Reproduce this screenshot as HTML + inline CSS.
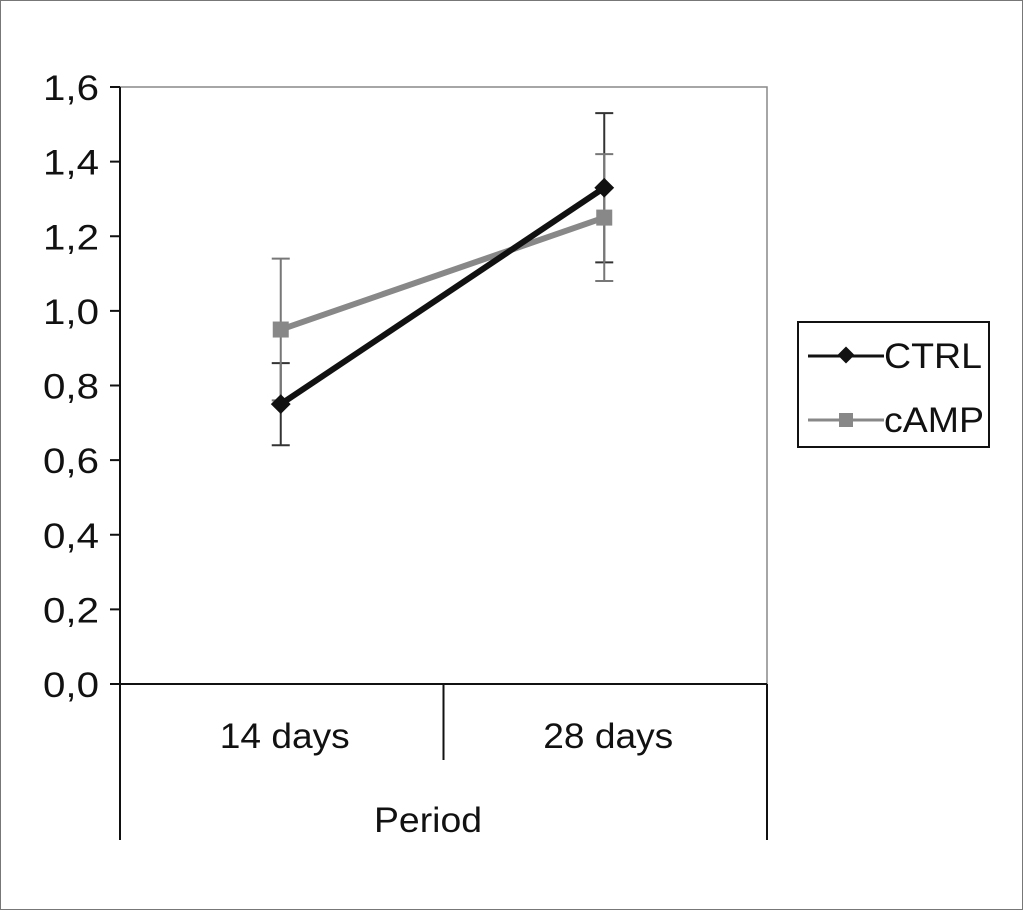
<!DOCTYPE html>
<html><head><meta charset="utf-8"><style>
html,body{margin:0;padding:0;background:#fff}
svg{display:block}
text{font-family:"Liberation Sans",Arial,sans-serif;fill:#111}
</style></head><body>
<svg width="1023" height="910" viewBox="0 0 1023 910" id="chart">
<rect x="0.5" y="0.5" width="1022" height="909" fill="#fff" stroke="#777"/>
<rect x="120" y="87" width="647" height="597" fill="none" stroke="#888" stroke-width="1.5"/>
<g id="axes"></g>
<g id="series"></g>
<g>
<rect x="798" y="322" width="191" height="125" fill="#fff" stroke="#111" stroke-width="2"/>
<g>
<line x1="808" y1="356" x2="884" y2="356" stroke="#111" stroke-width="3"/>
<rect x="840" y="349" width="12" height="12" fill="#111" transform="rotate(45 846 355)"/>
<text x="884" y="368" font-size="35" textLength="98" lengthAdjust="spacingAndGlyphs">CTRL</text></g>
<g>
<line x1="808" y1="420" x2="884" y2="420" stroke="#888" stroke-width="3"/>
<rect x="839" y="413" width="14" height="14" fill="#888"/>
<text x="884" y="432" font-size="35" textLength="100" lengthAdjust="spacingAndGlyphs">cAMP</text></g>
</g>
</svg>
<script>
const categories=["14 days","28 days"];
const ctrlValues=[0.75,1.33];
const ctrlErr=[0.11,0.2];
const campValues=[0.95,1.25];
const campErr=[0.19,0.17];
const yTicks=[0,0.2,0.4,0.6,0.8,1.0,1.2,1.4,1.6];
const yTickLabels=["0,0","0,2","0,4","0,6","0,8","1,0","1,2","1,4","1,6"];
const NS="http://www.w3.org/2000/svg";
const X0=120,X1=767,Y0=684,Y1=87;
const yS=v=>Y0-(v/1.6)*(Y0-Y1);
const xS=i=>X0+(i+0.5)*(X1-X0)/categories.length-1;
function mk(tag,attrs,parent){const e=document.createElementNS(NS,tag);for(const k in attrs)e.setAttribute(k,attrs[k]);parent.appendChild(e);return e;}
const ax=document.getElementById('axes');
let yl=mk('line',{x1:X0,y1:Y1,x2:X0,y2:Y0,stroke:'#111','stroke-width':2},ax);


yTicks.forEach((t,i)=>{
 const y=yS(t);
 const l=mk('line',{x1:X0-10,y1:y,x2:X0,y2:y,stroke:'#111','stroke-width':2},ax);
 
 
 const tx=mk('text',{x:X0-21,y:y+13,'font-size':35,'text-anchor':'end',textLength:56,lengthAdjust:'spacingAndGlyphs'},ax);
 tx.textContent=yTickLabels[i];
 
 
});
let xl=mk('line',{x1:X0,y1:Y0,x2:X1,y2:Y0,stroke:'#111','stroke-width':2},ax);


[[X0,840],[(X0+X1)/2,760],[X1,840]].forEach(([x,y2])=>{
 const l=mk('line',{x1:x,y1:Y0,x2:x,y2:y2,stroke:'#111','stroke-width':2},ax);
 
 
});
categories.forEach((c,i)=>{
 const t=mk('text',{x:xS(i)+4,y:748,'font-size':35,'text-anchor':'middle',textLength:130,lengthAdjust:'spacingAndGlyphs'},ax);
 t.textContent=c;
 
 
});
const pt=mk('text',{x:428,y:832,'font-size':35,'text-anchor':'middle',textLength:108,lengthAdjust:'spacingAndGlyphs'},ax);
pt.textContent="Period";


const sg=document.getElementById('series');
function errbars(vals,errs,color,name){
 vals.forEach((v,i)=>{
  const x=xS(i),a=yS(v+errs[i]),b=yS(v-errs[i]);
  const g=mk('g',{stroke:color,'stroke-width':2},sg);
  
  
  mk('line',{x1:x,y1:a,x2:x,y2:b},g);
  mk('line',{x1:x-9,y1:a,x2:x+9,y2:a},g);
  mk('line',{x1:x-9,y1:b,x2:x+9,y2:b},g);
 });
}
errbars(ctrlValues,ctrlErr,'#333','ctrl');
errbars(campValues,campErr,'#777','camp');
function line(vals,color,name){
 const p=mk('polyline',{points:vals.map((v,i)=>xS(i)+','+yS(v)).join(' '),fill:'none',stroke:color,'stroke-width':6},sg);
 
 
}
line(campValues,'#888','camp');
line(ctrlValues,'#111','ctrl');
ctrlValues.forEach((v,i)=>{
 const x=xS(i),y=yS(v);
 const r=mk('rect',{x:x-7,y:y-7,width:14,height:14,fill:'#111',transform:`rotate(45 ${x} ${y})`},sg);
 
 
});
campValues.forEach((v,i)=>{
 const x=xS(i),y=yS(v);
 const r=mk('rect',{x:x-8,y:y-8,width:16,height:16,fill:'#888'},sg);
 
 
});
</script>
</body></html>
